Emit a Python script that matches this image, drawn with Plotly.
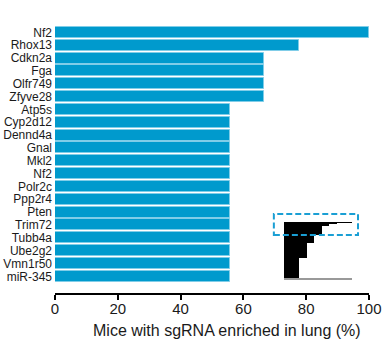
import plotly.graph_objects as go
import numpy as np

genes = ["Nf2", "Rhox13", "Cdkn2a", "Fga", "Olfr749", "Zfyve28", "Atp5s", "Cyp2d12",
         "Dennd4a", "Gnal", "Mkl2", "Nf2", "Polr2c", "Ppp2r4", "Pten", "Trim72",
         "Tubb4a", "Ube2g2", "Vmn1r50", "miR-345"]
pct = [100, 77.8, 66.7, 66.7, 66.7, 66.7, 55.6, 55.6, 55.6, 55.6,
       55.6, 55.6, 55.6, 55.6, 55.6, 55.6, 55.6, 55.6, 55.6, 55.6]
x_ticks = [0, 20, 40, 60, 80, 100]

# inset: distribution of all sgRNAs (percent of mice, number of genes at that level)
inset_pct = [100, 77.8, 66.7, 55.6, 44.4, 33.3, 22.2]
inset_n = [1, 1, 4, 14, 12, 23, 31]

FONT = "Liberation Sans, Arial, Helvetica, sans-serif"
TXT = "#1a1a1a"

ypos = list(range(len(genes)))
inset_n_arr = np.array(inset_n, dtype=float)
inset_center = np.cumsum(inset_n_arr) - inset_n_arr / 2
inset_total = float(inset_n_arr.sum())

fig = go.Figure()
fig.add_trace(go.Bar(
    x=pct, y=ypos, orientation="h", width=0.86,
    marker=dict(color="#009acd", line=dict(color="#80cde8", width=1)),
    hoverinfo="x+text", text=genes, textposition="none",
    xaxis="x", yaxis="y",
))
fig.add_trace(go.Bar(
    x=inset_pct, y=list(inset_center), width=inset_n, orientation="h",
    marker=dict(color="black", line=dict(width=0)),
    xaxis="x2", yaxis="y2", hoverinfo="x",
))

fig.update_layout(
    width=391, height=342,
    margin=dict(l=55, r=22, t=26, b=49, autoexpand=False),
    paper_bgcolor="white", plot_bgcolor="white",
    showlegend=False,
    font=dict(family=FONT, color=TXT),
    xaxis=dict(
        range=[0, 100], tickvals=x_ticks, ticktext=[str(v) for v in x_ticks],
        showgrid=False, zeroline=False, showline=True, linecolor="black", linewidth=1.5,
        ticks="outside", ticklen=5, tickwidth=1.5, tickcolor="black",
        tickfont=dict(size=15, family=FONT, color=TXT),
        ticklabelstandoff=-4, automargin=False, fixedrange=True,
    ),
    yaxis=dict(
        range=[20.3, -0.5], tickvals=ypos, ticktext=genes,
        showgrid=False, zeroline=False, showline=False, ticks="",
        tickfont=dict(size=12, family=FONT, color=TXT),
        ticklabelstandoff=2, automargin=False, fixedrange=True,
    ),
    xaxis2=dict(
        domain=[0.729, 0.946], range=[0, 100], anchor="y2",
        showgrid=False, zeroline=False, showticklabels=False, ticks="",
        showline=True, linecolor="#999999", linewidth=2, automargin=False,
    ),
    yaxis2=dict(
        domain=[0.056, 0.266], range=[inset_total, 0], anchor="x2",
        showgrid=False, zeroline=False, showticklabels=False, ticks="",
        showline=False, automargin=False,
    ),
    bargap=0,
    shapes=[dict(
        type="rect", xref="paper", yref="paper",
        x0=0.697, x1=0.965, y0=0.217, y1=0.296,
        line=dict(color="#1a9fd4", width=2, dash="6px,3px"),
        fillcolor="rgba(0,0,0,0)", layer="above",
    )],
    annotations=[dict(
        text="Mice with sgRNA enriched in lung (%)", xref="paper", yref="paper",
        x=0.549, y=-0.142, xanchor="center", yanchor="middle", showarrow=False,
        font=dict(size=16, family=FONT, color=TXT),
    )],
)

fig.write_html("out.html")
